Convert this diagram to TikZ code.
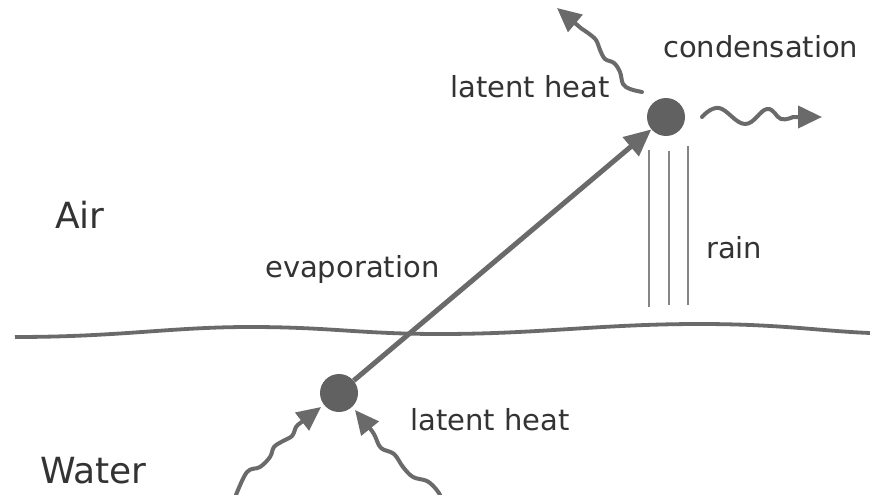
\documentclass[tikz,border=0pt]{standalone}
\usepackage{fontspec}
\setmainfont{DejaVu Sans}
\usetikzlibrary{arrows.meta}
\definecolor{linegray}{HTML}{6A6A6A}
\definecolor{dotgray}{HTML}{616161}
\definecolor{textgray}{HTML}{333333}
\definecolor{raingray}{HTML}{858585}
\begin{document}
\begin{tikzpicture}[x=1pt,y=-1pt,
  lbl/.style={inner sep=0pt, anchor=base west, text=textgray, font=\fontsize{29}{34}\selectfont},
  big/.style={inner sep=0pt, anchor=base west, text=textgray, font=\fontsize{36}{42}\selectfont},
  drop/.style={circle, fill=dotgray, minimum size=38pt, inner sep=0pt},
  mainarrow/.style={draw=linegray, line width=5pt, -{Triangle[length=27pt,width=24pt]}},
  heatarrow/.style={draw=linegray, line width=4pt, line join=round, line cap=round, -{Triangle[length=24pt,width=22pt]}},
  surface/.style={draw=linegray, line width=3.8pt},
  rainline/.style={draw=raingray, line width=1.7pt}
]
\useasboundingbox (0,0) rectangle (870,495);
\fill[white] (0,0) rectangle (870,495);

% surface
\draw[surface] (15,337) .. controls (120,337) and (170,327) .. (250,327)
  .. controls (330,327) and (360,334) .. (440,334)
  .. controls (540,334) and (600,324) .. (700,324)
  .. controls (780,324) and (820,331) .. (870,333);

% drops
\node[drop] (low) at (339,393) {};
\node[drop] (high) at (666,117) {};

% rain
\coordinate (r1t) at (649,150); \coordinate (r1b) at (649,307);
\coordinate (r2t) at (669,151); \coordinate (r2b) at (669,305);
\coordinate (r3t) at (688,146); \coordinate (r3b) at (688,305);
\draw[rainline] (r1t) -- (r1b);
\draw[rainline] (r2t) -- (r2b);
\draw[rainline] (r3t) -- (r3b);

% evaporation arrow
\draw[mainarrow] (low) -- (high);

% heat wavy arrows
\coordinate (tlE) at (557,8);
\draw[heatarrow] plot[smooth, tension=0.6] coordinates {(642,92) (630,89) (623,84) (620,72) (614,63) (605,59) (600,50) (596,40) (588,33) (582,29)} -- (tlE);

\coordinate (rE) at (822,117);
\draw[heatarrow] plot[smooth, tension=0.7] coordinates {(702,117) (719,108) (745,124) (767,109) (781,119) (793,117)} -- (rE);

\coordinate (blE) at (321,407);
\draw[heatarrow] plot[smooth, tension=0.6] coordinates {(236,495) (247,472) (260,467) (270,457) (274,447) (283,441) (292,436) (296,427) (299,424)} -- (blE);

\coordinate (brE) at (355,410);
\draw[heatarrow] plot[smooth, tension=0.6] coordinates {(440,495) (436,489) (427,481) (413,477) (403,467) (394,454) (381,448) (375,436) (372,431)} -- (brE);

% labels
\node[big] (air) at (55,228) {Air};
\node[big] (water) at (40,483) {Water};
\node[lbl] (evap) at (265,277) {evaporation};
\node[lbl] (lhlow) at (410,430) {latent heat};
\node[lbl] (lhhigh) at (450,97) {latent heat};
\node[lbl] (cond) at (663,58) {condensation};
\node[lbl] (rain) at (706,258) {rain};
\end{tikzpicture}
\end{document}
